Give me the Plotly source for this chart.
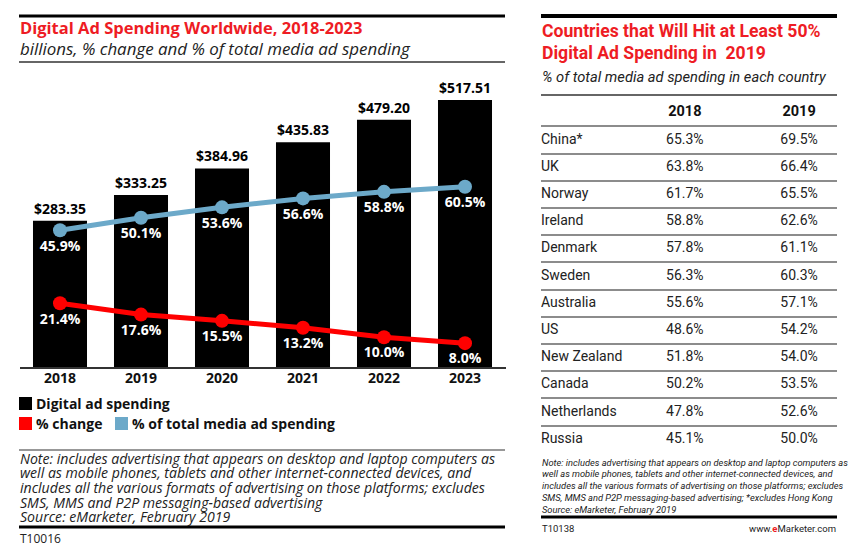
import plotly.graph_objects as go

# ---------------- data ----------------
years = ["2018", "2019", "2020", "2021", "2022", "2023"]
digital_spend = [283.35, 333.25, 384.96, 435.83, 479.20, 517.51]
pct_change = [21.4, 17.6, 15.5, 13.2, 10.0, 8.0]
pct_total = [45.9, 50.1, 53.6, 56.6, 58.8, 60.5]

countries = ["China*", "UK", "Norway", "Ireland", "Denmark", "Sweden", "Australia",
             "US", "New Zealand", "Canada", "Netherlands", "Russia"]
share_2018 = [65.3, 63.8, 61.7, 58.8, 57.8, 56.3, 55.6, 48.6, 51.8, 50.2, 47.8, 45.1]
share_2019 = [69.5, 66.4, 65.5, 62.6, 61.1, 60.3, 57.1, 54.2, 54.0, 53.5, 52.6, 50.0]
table_years = ["2018", "2019"]

left_notes = [
    "Note: includes advertising that appears on desktop and laptop computers as",
    "well as mobile phones, tablets and other internet-connected devices, and",
    "includes all the various formats of advertising on those platforms; excludes",
    "SMS, MMS and P2P messaging-based advertising",
    "Source: eMarketer, February 2019",
]
right_notes = [
    "Note: includes advertising that appears on desktop and laptop computers as",
    "well as mobile phones, tablets and other internet-connected devices, and",
    "includes all the various formats of advertising on those platforms; excludes",
    "SMS, MMS and P2P messaging-based advertising; *excludes Hong Kong",
    "Source: eMarketer, February 2019",
]

# ---------------- styling ----------------
W, H = 855, 550
RED = "#ee1c24"
LINE_RED = "#ff0000"
BLUE = "#6ca9c9"
LF = "Open Sans"
RF = "Roboto"


def px(x):
    return x / W


def py(y):
    return 1 - y / H


fig = go.Figure()

fig.add_trace(go.Bar(
    x=years, y=digital_spend, marker=dict(color="black", line=dict(width=0)),
    text=[f"${v:.2f}" for v in digital_spend], textposition="outside",
    textfont=dict(family=LF, size=14, color="black", weight=700),
    cliponaxis=False, constraintext="none", hoverinfo="skip", showlegend=False,
))
fig.add_trace(go.Scatter(
    x=years, y=pct_total, yaxis="y2", mode="lines+markers+text",
    line=dict(color=BLUE, width=5), marker=dict(color=BLUE, size=14),
    text=[f"{v:.1f}%" for v in pct_total], textposition="bottom center",
    textfont=dict(family=LF, size=14, color="white", weight=700),
    cliponaxis=False, hoverinfo="skip", showlegend=False,
))
fig.add_trace(go.Scatter(
    x=years, y=pct_change, yaxis="y2", mode="lines+markers+text",
    line=dict(color=LINE_RED, width=5), marker=dict(color=LINE_RED, size=14),
    text=[f"{v:.1f}%" for v in pct_change], textposition="bottom center",
    textfont=dict(family=LF, size=14, color="white", weight=700),
    cliponaxis=False, hoverinfo="skip", showlegend=False,
))

# ---------------- table (right) ----------------
rows = list(range(len(countries)))
fig.add_trace(go.Scatter(
    x=[0.0] * len(countries), y=rows, xaxis="x3", yaxis="y3", mode="text",
    text=countries, textposition="middle right",
    textfont=dict(family=RF, size=14, color="#222"), hoverinfo="skip", showlegend=False,
))
fig.add_trace(go.Scatter(
    x=[0.486] * len(countries), y=rows, xaxis="x3", yaxis="y3", mode="text",
    text=[f"{v:.1f}%" for v in share_2018], textposition="middle center",
    textfont=dict(family=RF, size=14, color="#222"), hoverinfo="skip", showlegend=False,
))
fig.add_trace(go.Scatter(
    x=[0.872] * len(countries), y=rows, xaxis="x3", yaxis="y3", mode="text",
    text=[f"{v:.1f}%" for v in share_2019], textposition="middle center",
    textfont=dict(family=RF, size=14, color="#222"), hoverinfo="skip", showlegend=False,
))
fig.add_trace(go.Scatter(
    x=[0.486, 0.872], y=[-1, -1], xaxis="x3", yaxis="y3", mode="text",
    text=table_years, textposition="middle center",
    textfont=dict(family=RF, size=14.5, color="#111", weight=700), hoverinfo="skip",
    showlegend=False,
))

shapes = []


def hline(x0, x1, y, w, c="black"):
    shapes.append(dict(type="line", xref="paper", yref="paper", x0=px(x0), x1=px(x1),
                       y0=py(y), y1=py(y), line=dict(color=c, width=w)))


def square(x0, y0, c):
    shapes.append(dict(type="rect", xref="paper", yref="paper", x0=px(x0), x1=px(x0 + 13),
                       y0=py(y0 + 13), y1=py(y0), fillcolor=c, line=dict(width=0)))


hline(19, 505, 16, 3)
hline(19, 505, 62, 1.5, "#333")
hline(19, 505, 450, 1.2, "#333")
hline(19, 505, 527, 3)
hline(541, 837, 16, 4)
hline(541, 837, 95, 1.5, "#333")
hline(541, 837, 517, 3)
square(19, 397, "black")
square(19, 417, LINE_RED)
square(115, 417, BLUE)

ann = []


def text(x, y, s, size, family=LF, color="#222", weight=400, style="normal", xanchor="left"):
    ann.append(dict(xref="paper", yref="paper", x=px(x), y=py(y), text=s, showarrow=False,
                    xanchor=xanchor, yanchor="middle", borderpad=0,
                    font=dict(family=family, size=size, color=color, weight=weight, style=style)))


text(19, 28, "Digital Ad Spending Worldwide, 2018-2023", 16.5, color=RED, weight=700)
text(19, 48, "billions, % change and % of total media ad spending", 16.9, style="italic")
text(35, 403, "Digital ad spending", 14, color="#111", weight=700)
text(35, 423, "% change", 14, color="#111", weight=700)
text(131, 423, "% of total media ad spending", 14, color="#111", weight=700)
for i, s in enumerate(left_notes):
    text(19, 458 + i * 14.7, s, 14.1, style="italic")
text(19, 538, "T10016", 12)

text(541, 31, "Countries that Will Hit at Least 50%", 17.6, family=RF, color=RED, weight=700)
text(541, 53, "Digital Ad Spending in  2019", 17.6, family=RF, color=RED, weight=700)
text(541, 77, "% of total media ad spending in each country", 14.7, family=RF, style="italic")
for i, s in enumerate(right_notes):
    text(541, 462 + i * 11.8, s, 9.3, family=RF, style="italic")
text(541, 528, "T10138", 9.5, family=RF)
text(837, 528, "www.<span style='color:#ee1c24'><b>e</b></span>Marketer.com", 9.5,
     family=RF, xanchor="right")

fig.update_layout(
    width=W, height=H, margin=dict(l=0, r=0, t=0, b=0),
    paper_bgcolor="white", plot_bgcolor="rgba(0,0,0,0)",
    bargap=0.333, showlegend=False,
    xaxis=dict(domain=[px(19.5), px(505.5)], type="category", range=[-0.5, 5.5],
               showline=True, linecolor="#333", linewidth=2, ticks="", showgrid=False,
               zeroline=False, ticklabelstandoff=-3,
               tickfont=dict(family=LF, size=14, color="#111", weight=700),
               fixedrange=True),
    yaxis=dict(domain=[py(367), py(90)], range=[0, 537], visible=False, fixedrange=True),
    yaxis2=dict(overlaying="y", range=[0, 93], visible=False, fixedrange=True),
    xaxis3=dict(domain=[px(541), px(837)], range=[0, 1], visible=False, anchor="y3",
                fixedrange=True),
    yaxis3=dict(domain=[py(455), py(90)], range=[11.58, -1.838], anchor="x3",
                tickvals=[i - 0.5 for i in range(1, len(countries))] + [-0.5],
                showgrid=True, gridcolor="#8c8c8c", gridwidth=1.5, showticklabels=False,
                ticks="", zeroline=False, showline=False, fixedrange=True),
    shapes=shapes, annotations=ann,
)

fig.write_html("out.html", config={"displayModeBar": False},
               post_script="document.body.style.margin='0';")
